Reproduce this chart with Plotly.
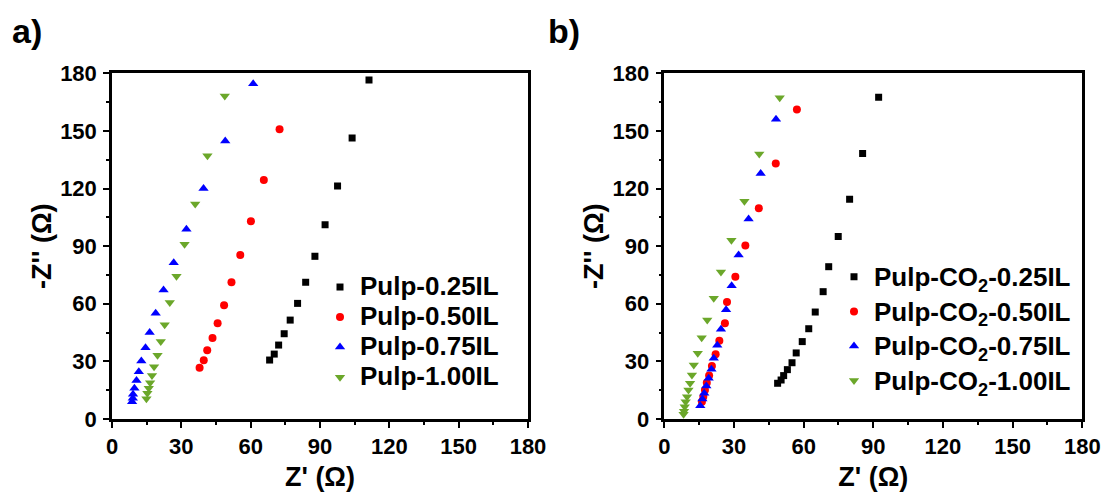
import plotly.graph_objects as go

# ---- Data (Z', -Z'') ----
a_025_x = [68.2, 70.2, 72.1, 74.5, 77.1, 80.3, 83.8, 87.8, 92.2, 97.6, 103.9, 111.2]
a_025_y = [30.7, 33.8, 38.5, 44.4, 51.5, 60.2, 71.2, 84.7, 101.2, 121.3, 146.3, 176.5]
a_050_x = [37.9, 39.7, 41.2, 43.5, 45.7, 48.5, 51.7, 55.5, 60.1, 65.7, 72.5]
a_050_y = [26.7, 30.6, 35.8, 42.2, 49.8, 59.2, 71.2, 85.4, 103.0, 124.5, 150.9]
a_075_x = [8.7, 9.0, 9.1, 9.7, 10.6, 11.6, 12.7, 14.5, 16.3, 18.9, 22.3, 26.7, 32.2, 39.6, 49.0, 61.1]
a_075_y = [9.0, 10.8, 12.9, 16.0, 20.0, 24.6, 30.2, 37.1, 45.1, 55.0, 67.2, 81.4, 98.8, 120.0, 144.8, 174.5]
a_100_x = [14.9, 15.3, 15.9, 16.5, 17.3, 18.2, 19.7, 21.1, 22.8, 25.0, 27.9, 31.4, 36.0, 41.3, 48.8]
a_100_y = [10.6, 13.4, 16.0, 18.9, 22.7, 27.2, 33.2, 40.3, 49.1, 60.6, 74.3, 91.0, 112.0, 137.1, 168.2]

b_025_x = [48.8, 50.3, 51.4, 53.0, 55.0, 56.8, 59.4, 62.2, 65.0, 68.4, 70.8, 74.9, 79.8, 85.4, 92.3]
b_025_y = [18.6, 20.3, 22.6, 25.7, 29.3, 34.4, 40.3, 47.0, 55.7, 66.3, 79.3, 95.0, 114.4, 138.2, 167.5]
b_050_x = [16.2, 16.8, 17.5, 18.3, 19.3, 20.5, 22.1, 23.7, 26.1, 27.0, 30.6, 34.9, 40.7, 48.0, 57.1]
b_050_y = [9.0, 11.6, 15.1, 18.9, 22.7, 27.6, 33.7, 40.8, 49.8, 60.9, 74.1, 90.3, 109.7, 133.0, 161.1]
b_075_x = [15.5, 16.4, 17.2, 18.1, 19.1, 20.3, 21.3, 22.8, 24.4, 26.6, 29.0, 32.0, 36.3, 41.5, 48.1]
b_075_y = [6.9, 10.4, 13.4, 17.2, 21.2, 25.9, 31.6, 38.4, 46.7, 56.9, 69.4, 85.4, 104.2, 127.8, 156.1]
b_100_x = [8.3, 8.5, 8.8, 9.2, 9.8, 10.4, 11.1, 11.9, 12.7, 14.4, 16.1, 18.5, 21.3, 24.4, 28.9, 34.5, 40.9, 49.7]
b_100_y = [2.5, 4.0, 6.4, 9.0, 11.6, 15.1, 18.6, 22.9, 28.1, 34.2, 42.3, 51.6, 62.9, 76.6, 93.1, 113.4, 138.0, 167.3]

names_a = ["Pulp-0.25IL", "Pulp-0.50IL", "Pulp-0.75IL", "Pulp-1.00IL"]
names_b = ["Pulp-CO<sub>2</sub>-0.25IL", "Pulp-CO<sub>2</sub>-0.50IL",
           "Pulp-CO<sub>2</sub>-0.75IL", "Pulp-CO<sub>2</sub>-1.00IL"]
tick_vals = [0, 30, 60, 90, 120, 150, 180]

colors = ["#000000", "#FF0000", "#0000FF", "#6BA72A"]
symbols = ["square", "circle", "triangle-up", "triangle-down"]
sizes = [7, 8, 9, 9]

FONT = "Liberation Sans, Arial, sans-serif"
LEG_TXT = '<span style="font-size:26px"><b>{}</b></span>'

fig = go.Figure()
series_a = [(a_025_x, a_025_y), (a_050_x, a_050_y), (a_075_x, a_075_y), (a_100_x, a_100_y)]
series_b = [(b_025_x, b_025_y), (b_050_x, b_050_y), (b_075_x, b_075_y), (b_100_x, b_100_y)]
for i, (xs, ys) in enumerate(series_a):
    fig.add_trace(go.Scatter(x=xs, y=ys, mode="markers", name=LEG_TXT.format(names_a[i]),
                             marker=dict(symbol=symbols[i], color=colors[i], size=sizes[i]),
                             xaxis="x", yaxis="y", legend="legend"))
for i, (xs, ys) in enumerate(series_b):
    fig.add_trace(go.Scatter(x=xs, y=ys, mode="markers", name=LEG_TXT.format(names_b[i]),
                             marker=dict(symbol=symbols[i], color=colors[i], size=sizes[i]),
                             xaxis="x2", yaxis="y2", legend="legend2"))

W, H = 1106, 494
ydom = [(H - 419) / H, (H - 73.3) / H]

tickfont = dict(family=FONT, size=22, color="black", weight="bold")
titlefont = dict(family=FONT, size=27, color="black", weight="bold")

def common():
    return dict(range=[0, 180], tickvals=tick_vals, automargin=False,
                showgrid=False, zeroline=False, showline=True, linecolor="black", linewidth=2.5,
                mirror=True, ticks="outside", ticklen=6, tickwidth=2, tickcolor="black",
                minor=dict(dtick=15, ticks="outside", ticklen=3, tickwidth=2, tickcolor="black", showgrid=False),
                tickfont=tickfont)

def xaxis(dom, anchor):
    d = common()
    d.update(domain=dom, anchor=anchor,
             title=dict(text="Z' (Ω)", font=titlefont, standoff=9))
    return d

def yaxis(dom, anchor):
    d = common()
    d.update(domain=dom, anchor=anchor, ticklabelstandoff=2,
             title=dict(text="-Z'' (Ω)", font=titlefont, standoff=1))
    return d

fig.update_layout(
    template="none",
    width=W, height=H,
    margin=dict(l=0, r=0, t=0, b=0),
    paper_bgcolor="white", plot_bgcolor="white",
    font=dict(family=FONT, color="black"),
    xaxis=xaxis([112 / W, 528 / W], "y"),
    yaxis=yaxis(ydom, "x"),
    xaxis2=xaxis([664.3 / W, 1082.3 / W], "y2"),
    yaxis2=yaxis(ydom, "x2"),
    showlegend=True,
    legend=dict(x=320 / W, y=1 - 267 / H, xanchor="left", yanchor="top",
                font=dict(family=FONT, size=20.8, color="black"),
                bgcolor="rgba(0,0,0,0)", borderwidth=0, tracegroupgap=0, itemsizing="trace"),
    legend2=dict(x=834 / W, y=1 - 254.5 / H, xanchor="left", yanchor="top",
                 font=dict(family=FONT, size=24.3, color="black"),
                 bgcolor="rgba(0,0,0,0)", borderwidth=0, tracegroupgap=0, itemsizing="trace"),
    annotations=[
        dict(text="<b>a)</b>", x=10 / W, y=1 - 31 / H, xref="paper", yref="paper",
             xanchor="left", yanchor="middle", showarrow=False,
             font=dict(family=FONT, size=34, color="black")),
        dict(text="<b>b)</b>", x=546 / W, y=1 - 31 / H, xref="paper", yref="paper",
             xanchor="left", yanchor="middle", showarrow=False,
             font=dict(family=FONT, size=34, color="black")),
    ],
)

fig.write_html("out.html")
